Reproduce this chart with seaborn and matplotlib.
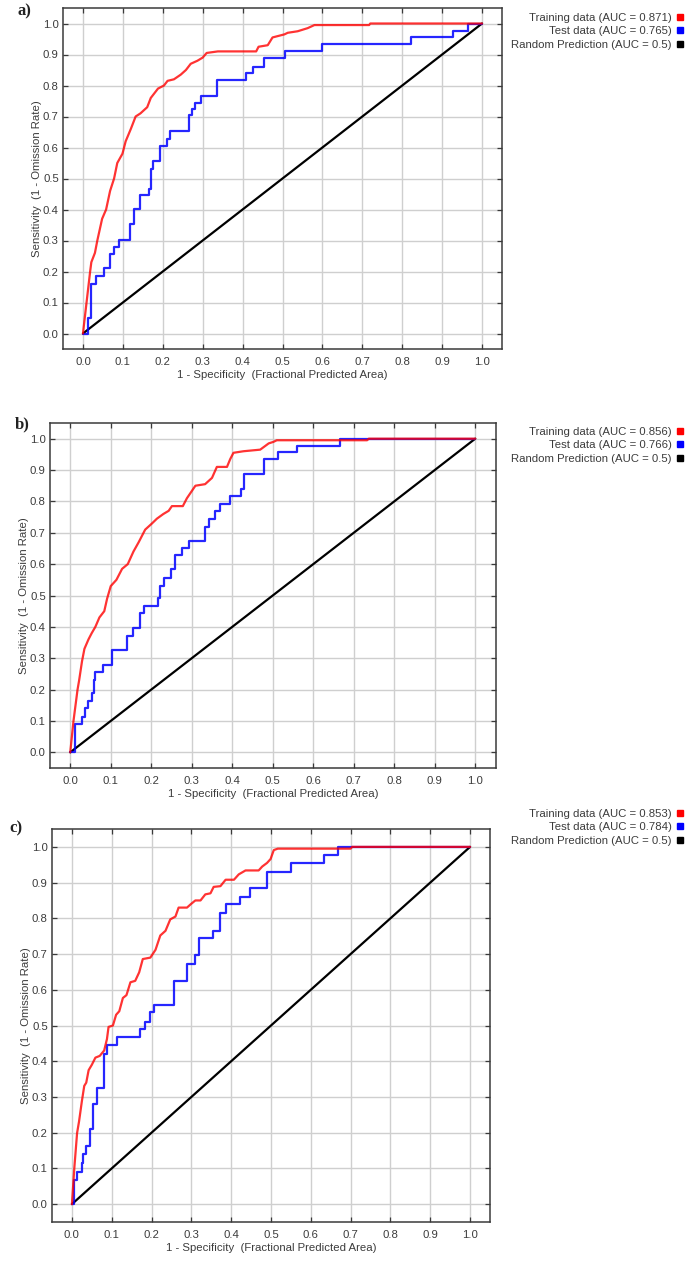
import numpy as np
import pandas as pd
import matplotlib
matplotlib.use("Agg")
import matplotlib.pyplot as plt
import seaborn as sns
from matplotlib.lines import Line2D

# ---------------- data ----------------
# Panel a
a_train_fpr = [0, 0.009, 0.018, 0.021, 0.030, 0.036, 0.048, 0.058, 0.068, 0.078, 0.086, 0.099,
               0.107, 0.120, 0.132, 0.144, 0.161, 0.170, 0.188, 0.203, 0.212, 0.228, 0.245,
               0.258, 0.270, 0.287, 0.300, 0.310, 0.338, 0.434, 0.440, 0.463, 0.475, 0.505,
               0.513, 0.538, 0.563, 0.580, 0.717, 0.720, 1.0]
a_train_tpr = [0, 0.10, 0.20, 0.23, 0.26, 0.30, 0.37, 0.40, 0.46, 0.50, 0.55, 0.58,
               0.62, 0.66, 0.70, 0.71, 0.73, 0.76, 0.79, 0.80, 0.815, 0.82, 0.835,
               0.85, 0.87, 0.88, 0.89, 0.905, 0.91, 0.91, 0.925, 0.93, 0.955, 0.965,
               0.97, 0.975, 0.985, 0.995, 0.995, 1.0, 1.0]
a_test_fpr = [0, 0.0125, 0.021, 0.032, 0.053, 0.069, 0.078, 0.090, 0.118, 0.128, 0.142, 0.166,
              0.170, 0.176, 0.194, 0.210, 0.219, 0.266, 0.274, 0.280, 0.297, 0.335, 0.408,
              0.425, 0.454, 0.507, 0.598, 0.822, 0.926, 0.964, 1.0]
a_test_tpr = [0, 0.05, 0.160, 0.184, 0.211, 0.255, 0.280, 0.303, 0.352, 0.401, 0.446, 0.465,
              0.531, 0.555, 0.605, 0.628, 0.652, 0.704, 0.724, 0.744, 0.767, 0.818, 0.840,
              0.861, 0.888, 0.910, 0.934, 0.956, 0.977, 1.0, 1.0]

# Panel b
b_train_fpr = [0, 0.008, 0.018, 0.022, 0.029, 0.035, 0.045, 0.053, 0.062, 0.072, 0.084, 0.091,
               0.100, 0.114, 0.128, 0.142, 0.156, 0.169, 0.185, 0.202, 0.214, 0.230, 0.243,
               0.251, 0.278, 0.288, 0.309, 0.333, 0.350, 0.362, 0.387, 0.395, 0.403, 0.428,
               0.469, 0.490, 0.502, 0.510, 0.733, 0.737, 1.0]
b_train_tpr = [0, 0.10, 0.20, 0.23, 0.29, 0.33, 0.36, 0.38, 0.40, 0.43, 0.45, 0.49,
               0.53, 0.55, 0.585, 0.60, 0.64, 0.67, 0.71, 0.73, 0.745, 0.76, 0.77,
               0.785, 0.785, 0.81, 0.85, 0.855, 0.875, 0.91, 0.91, 0.935, 0.955, 0.96,
               0.965, 0.985, 0.99, 0.995, 0.995, 1.0, 1.0]
b_test_fpr = [0, 0.012, 0.029, 0.037, 0.045, 0.053, 0.058, 0.062, 0.082, 0.103, 0.140, 0.156,
              0.173, 0.183, 0.216, 0.222, 0.232, 0.249, 0.259, 0.276, 0.292, 0.333, 0.342,
              0.358, 0.370, 0.395, 0.421, 0.430, 0.479, 0.512, 0.560, 0.667, 1.0]
b_test_tpr = [0, 0.091, 0.114, 0.141, 0.165, 0.188, 0.231, 0.255, 0.279, 0.325, 0.370, 0.396,
              0.444, 0.465, 0.492, 0.529, 0.556, 0.583, 0.628, 0.652, 0.673, 0.719, 0.744,
              0.769, 0.792, 0.817, 0.840, 0.886, 0.934, 0.957, 0.977, 1.0, 1.0]

# Panel c
c_train_fpr = [0, 0.006, 0.013, 0.018, 0.025, 0.031, 0.036, 0.042, 0.050, 0.059, 0.070, 0.081,
               0.088, 0.092, 0.103, 0.111, 0.119, 0.128, 0.137, 0.147, 0.159, 0.169, 0.178,
               0.197, 0.210, 0.222, 0.235, 0.247, 0.260, 0.268, 0.289, 0.299, 0.310, 0.323,
               0.335, 0.348, 0.356, 0.373, 0.386, 0.407, 0.419, 0.436, 0.469, 0.478, 0.490,
               0.499, 0.507, 0.517, 0.700, 0.704, 1.0]
c_train_tpr = [0, 0.10, 0.199, 0.232, 0.288, 0.331, 0.34, 0.375, 0.39, 0.41, 0.415, 0.43,
               0.462, 0.496, 0.50, 0.53, 0.54, 0.577, 0.585, 0.621, 0.625, 0.649, 0.686,
               0.69, 0.712, 0.752, 0.765, 0.797, 0.805, 0.83, 0.83, 0.84, 0.85, 0.85,
               0.867, 0.87, 0.888, 0.89, 0.908, 0.908, 0.923, 0.934, 0.934, 0.945, 0.955,
               0.966, 0.991, 0.995, 0.995, 1.0, 1.0]
c_test_fpr = [0, 0.004, 0.013, 0.025, 0.029, 0.035, 0.046, 0.054, 0.063, 0.081, 0.088, 0.113,
              0.170, 0.184, 0.197, 0.205, 0.257, 0.288, 0.308, 0.318, 0.355, 0.373, 0.387,
              0.422, 0.448, 0.490, 0.549, 0.633, 0.669, 1.0]
c_test_tpr = [0, 0.068, 0.090, 0.115, 0.139, 0.162, 0.209, 0.279, 0.326, 0.419, 0.446, 0.468,
              0.490, 0.510, 0.537, 0.557, 0.625, 0.672, 0.698, 0.745, 0.764, 0.815, 0.839,
              0.861, 0.886, 0.930, 0.955, 0.977, 1.0, 1.0]

random_fpr = [0.0, 1.0]
random_tpr = [0.0, 1.0]

panel_tags = ["a)", "b)", "c)"]
train_auc = ["0.871", "0.856", "0.853"]
test_auc = ["0.765", "0.766", "0.784"]
random_auc = "0.5"
tick_values = [0.0, 0.1, 0.2, 0.3, 0.4, 0.5, 0.6, 0.7, 0.8, 0.9, 1.0]
xlabel_text = "1 - Specificity  (Fractional Predicted Area)"
ylabel_text = "Sensitivity  (1 - Omission Rate)"

# ---------------- style ----------------
sns.set_style("whitegrid")
plt.rcParams['font.family'] = ['Liberation Sans', 'DejaVu Sans']
plt.rcParams['axes.edgecolor'] = '#3a3a3a'
plt.rcParams['grid.color'] = '#cfcfcf'

W, H = 685, 1263
fig = plt.figure(figsize=(W / 100, H / 100), dpi=100)

# axes rectangles in pixels: left, top, right, bottom
rects = [(63, 8, 502, 349), (50, 423, 495.5, 768), (52, 829, 490, 1222)]
legend_tops = [13, 427, 809]
tag_pos = [(24, 11), (22, 424), (16, 828)]
ylabel_pad = [0.5, 0.5, 0.5]

panels = [
    (a_train_fpr, a_train_tpr, a_test_fpr, a_test_tpr),
    (b_train_fpr, b_train_tpr, b_test_fpr, b_test_tpr),
    (c_train_fpr, c_train_tpr, c_test_fpr, c_test_tpr),
]

txt_col = '#3c3c3c'
fs = 8.2

for i, (trf, trt, tef, tet) in enumerate(panels):
    l, t, r, b = rects[i]
    ax = fig.add_axes([l / W, 1 - b / H, (r - l) / W, (b - t) / H])
    df_train = pd.DataFrame({"fpr": trf, "tpr": trt})
    df_test = pd.DataFrame({"fpr": tef, "tpr": tet})
    df_rand = pd.DataFrame({"fpr": random_fpr, "tpr": random_tpr})

    sns.lineplot(data=df_rand, x="fpr", y="tpr", sort=False, estimator=None,
                 color="black", lw=1.6, ax=ax, zorder=3)
    sns.lineplot(data=df_test, x="fpr", y="tpr", sort=False, estimator=None,
                 color="#0000ff", lw=1.6, ax=ax, drawstyle="steps-post", alpha=0.85, zorder=4)
    sns.lineplot(data=df_train, x="fpr", y="tpr", sort=False, estimator=None,
                 color="#ff0000", lw=1.6, ax=ax, alpha=0.8, zorder=5)

    ax.set_xlim(-0.05, 1.05)
    ax.set_ylim(-0.05, 1.05)
    ax.set_xticks(tick_values)
    ax.set_yticks(tick_values)
    ax.set_xticklabels([f"{v:.1f}" for v in tick_values])
    ax.set_yticklabels([f"{v:.1f}" for v in tick_values])
    ax.grid(True, color='#cfcfcf', lw=1.0)
    for sp in ax.spines.values():
        sp.set_visible(True)
        sp.set_color('#3a3a3a')
        sp.set_linewidth(1.1)
    ax.tick_params(axis='both', which='both', direction='in', length=3.5, width=0.9,
                   color='#3a3a3a', top=True, right=True, bottom=True, left=True,
                   labelsize=fs, labelcolor=txt_col)
    ax.tick_params(axis='x', pad=6)
    ax.tick_params(axis='y', pad=3)
    ax.set_xlabel(xlabel_text, fontsize=fs, color=txt_col, labelpad=2)
    ax.set_ylabel(ylabel_text, fontsize=fs, color=txt_col, labelpad=ylabel_pad[i])

    handles = [Line2D([0], [0], marker='s', ls='none', color='#ff0000', markersize=4),
               Line2D([0], [0], marker='s', ls='none', color='#0000ff', markersize=4),
               Line2D([0], [0], marker='s', ls='none', color='black', markersize=4)]
    labels = [f"Training data (AUC = {train_auc[i]})",
              f"Test data (AUC = {test_auc[i]})",
              f"Random Prediction (AUC = {random_auc})"]
    leg = fig.legend(handles, labels, markerfirst=False, loc='upper right',
                     bbox_to_anchor=(683 / W, 1 - legend_tops[i] / H),
                     frameon=False, fontsize=fs, handlelength=0.5, handletextpad=0.5,
                     labelspacing=0.3, borderpad=0, borderaxespad=0)
    for tx in leg.get_texts():
        tx.set_color(txt_col)

    fig.text(tag_pos[i][0] / W, 1 - tag_pos[i][1] / H, panel_tags[i],
             fontsize=12, fontweight='bold', family=['Liberation Serif', 'DejaVu Serif'],
             ha='center', va='center', color='#222222')

fig.savefig("out.png", dpi=100)
